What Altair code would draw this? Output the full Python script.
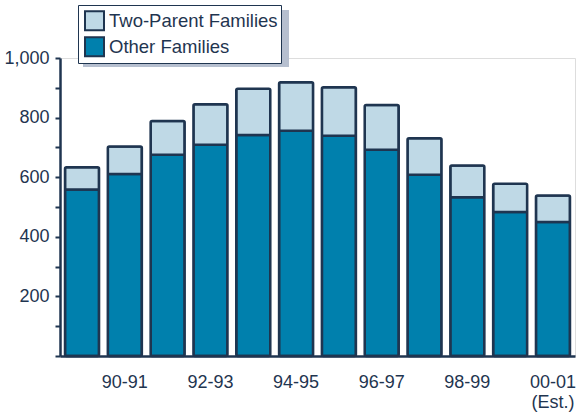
import altair as alt
import pandas as pd

# Caseload by fiscal year (thousands)
years = ["89-90", "90-91", "91-92", "92-93", "93-94", "94-95",
         "95-96", "96-97", "97-98", "98-99", "99-00", "00-01 (Est.)"]
other_families = [559, 611, 675, 709, 742, 756, 739, 692, 608, 533, 483, 450]
two_parent_families = [74, 92, 114, 136, 155, 163, 163, 150, 123, 106, 95, 89]

series_names = ["Two-Parent Families", "Other Families"]
series_colors = ["#bfd9e6", "#0080ad"]
navy = "#1f3550"
font = "Liberation Sans"

rows = []
for yr, o, t in zip(years, other_families, two_parent_families):
    rows.append({"year": yr, "series": "Other Families", "value": o, "rank": 0})
    rows.append({"year": yr, "series": "Two-Parent Families", "value": t, "rank": 1})
df = pd.DataFrame(rows)

bars = alt.Chart(df).mark_bar(
    stroke=navy, strokeWidth=2.5, cornerRadius=1.5
).encode(
    x=alt.X(
        "year:N",
        sort=years,
        scale=alt.Scale(paddingInner=0.205, paddingOuter=0.117),
        axis=alt.Axis(
            title=None,
            values=years[1::2],
            ticks=False,
            labelAngle=0,
            labelExpr="split(datum.label, ' ')",
            labelLineHeight=20,
            labelPadding=17,
            labelFontSize=18,
            labelFont=font,
            labelColor=navy,
            domainColor=navy,
            domainWidth=2.5,
            grid=False,
        ),
    ),
    y=alt.Y(
        "value:Q",
        stack="zero",
        scale=alt.Scale(domain=[0, 1000], nice=False),
        axis=alt.Axis(
            title=None,
            values=list(range(0, 1001, 100)),
            labelExpr="datum.value % 200 == 0 && datum.value > 0 ? format(datum.value, ',') : ''",
            tickSize=5,
            tickWidth=2,
            tickColor=navy,
            domainColor=navy,
            domainWidth=2.5,
            labelPadding=6,
            labelFontSize=18,
            labelFont=font,
            labelColor=navy,
            grid=False,
        ),
    ),
    color=alt.Color(
        "series:N",
        scale=alt.Scale(domain=series_names, range=series_colors),
        legend=alt.Legend(
            title=None,
            orient="none",
            legendX=18,
            legendY=-53,
            fillColor="white",
            strokeColor=navy,
            padding=3,
            rowPadding=0,
            clipHeight=25.5,
            symbolOffset=3,
            symbolType="square",
            symbolSize=361,
            symbolStrokeColor=navy,
            symbolStrokeWidth=2,
            symbolOpacity=1,
            labelFontSize=18.5,
            labelFont=font,
            labelColor=navy,
            labelOffset=4,
            labelLimit=300,
        ),
    ),
    order=alt.Order("rank:Q"),
)

# Drop shadow behind the legend box
shadow = alt.Chart(pd.DataFrame({"k": [0]})).mark_rect(
    color="#b6bfcf"
).encode(
    x=alt.value(23), x2=alt.value(229),
    y=alt.value(-48), y2=alt.value(9),
)

chart = alt.layer(shadow, bars).properties(
    width=515,
    height=298,
    autosize=alt.AutoSizeParams(type="none"),
    padding={"left": 60, "top": 58, "right": 1, "bottom": 56},
).configure_view(
    stroke=None
).configure_legend(
    strokeWidth=2.5, cornerRadius=2
).configure(background="white")

chart.save("out.html", embed_options={"renderer": "svg", "actions": False})
